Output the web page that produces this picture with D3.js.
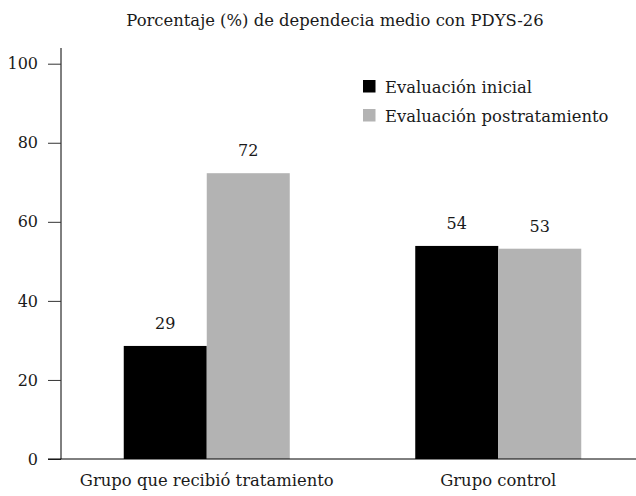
<!DOCTYPE html>
<html>
<head>
<meta charset="utf-8">
<script src="https://cdn.jsdelivr.net/npm/d3@7/dist/d3.min.js"></script>
<style>
  html, body { margin: 0; padding: 0; background: #fff; }
  svg { display: block; }
  text { font-family: "DejaVu Serif", serif; fill: #1a1a1a; }
</style>
</head>
<body>
<script>
const groups = ["Grupo que recibió tratamiento", "Grupo control"];
const seriesNames = ["Evaluación inicial", "Evaluación postratamiento"];
const inicial = [28.6, 53.9];
const postratamiento = [72.3, 53.2];
const valueLabels = [["29", "72"], ["54", "53"]];
const yTicks = [0, 20, 40, 60, 80, 100];
const colors = ["#000000", "#b3b3b3"];
const title = "Porcentaje (%) de dependecia medio con PDYS-26";

const W = 636, H = 496;
const FONT = "'DejaVu Serif', serif";
const svg = d3.select("body").append("svg").attr("width", W).attr("height", H);

const y = d3.scaleLinear().domain([0, 100]).range([459, 63.7]);
const x0 = d3.scaleBand().domain(groups).range([61, 644]).padding(0);
const x1 = d3.scaleBand().domain(seriesNames).range([0, x0.bandwidth()]).paddingInner(0).paddingOuter(0.756);

const data = groups.map((g, i) => ({
  group: g,
  values: [
    { s: seriesNames[0], v: inicial[i], label: valueLabels[i][0] },
    { s: seriesNames[1], v: postratamiento[i], label: valueLabels[i][1] }
  ]
}));

// title
svg.append("text").attr("x", 335).attr("y", 26).attr("text-anchor", "middle")
  .style("font-size", "16.4px").text(title);

// bars
const g = svg.append("g").selectAll("g").data(data).join("g")
  .attr("transform", d => `translate(${x0(d.group)},0)`);
g.selectAll("rect").data(d => d.values).join("rect")
  .attr("x", d => x1(d.s))
  .attr("width", x1.bandwidth())
  .attr("y", d => y(d.v))
  .attr("height", d => y(0) - y(d.v))
  .attr("fill", (d, i) => colors[i]);
g.selectAll("text.val").data(d => d.values).join("text")
  .attr("class", "val")
  .attr("x", d => x1(d.s) + x1.bandwidth() / 2)
  .attr("y", d => y(d.v) - 17)
  .attr("text-anchor", "middle")
  .style("font-size", "16px")
  .text(d => d.label);

// y axis
const yAxis = d3.axisLeft(y).tickValues(yTicks).tickSize(13).tickPadding(10);
const ya = svg.append("g").attr("transform", "translate(61,0)").call(yAxis);
ya.select(".domain").attr("d", `M0,48V${y(0)}`).attr("stroke", "#000");
ya.selectAll(".tick line").attr("stroke", "#333");
ya.selectAll(".tick text").style("font-size", "16px").style("font-family", FONT).attr("fill", "#1a1a1a");

// x axis
const xAxis = d3.axisBottom(x0).tickSize(0).tickPadding(15);
const xa = svg.append("g").attr("transform", `translate(0,${y(0)})`).call(xAxis);
xa.select(".domain").attr("d", `M48,0H636`).attr("stroke", "#000");
xa.selectAll(".tick text").style("font-size", "16.4px").style("font-family", FONT).attr("fill", "#1a1a1a");

// legend
const leg = svg.append("g").selectAll("g").data(seriesNames).join("g")
  .attr("transform", (d, i) => `translate(363,${80 + i * 29})`);
leg.append("rect").attr("width", 12.5).attr("height", 12.5).attr("fill", (d, i) => colors[i]);
leg.append("text").attr("x", 22).attr("y", 12.5).style("font-size", "16.4px").text(d => d);
</script>
</body>
</html>
